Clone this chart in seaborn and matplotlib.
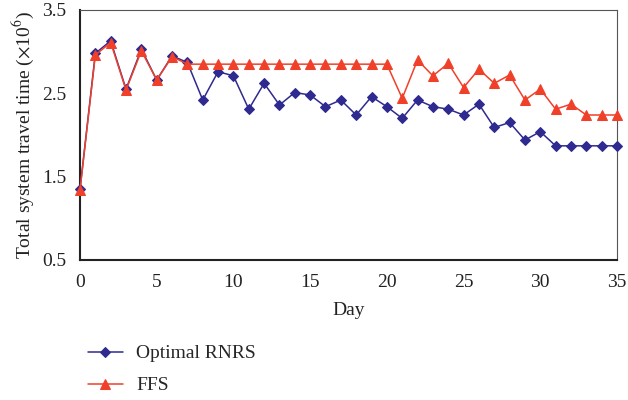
import numpy as np
import pandas as pd
import matplotlib
matplotlib.use('Agg')
import matplotlib.pyplot as plt
import seaborn as sns

# データ
days = list(range(36))
optimal_rnrs = [1.35, 2.98, 3.13, 2.55, 3.03, 2.66, 2.95, 2.87, 2.42, 2.76,
                2.71, 2.31, 2.62, 2.36, 2.51, 2.48, 2.34, 2.42, 2.24, 2.46,
                2.34, 2.20, 2.42, 2.34, 2.31, 2.24, 2.37, 2.09, 2.15, 1.94,
                2.04, 1.87, 1.87, 1.87, 1.87, 1.87]
ffs = [1.34, 2.96, 3.11, 2.54, 3.01, 2.66, 2.94, 2.85, 2.85, 2.85,
       2.85, 2.85, 2.85, 2.85, 2.85, 2.85, 2.85, 2.85, 2.85, 2.85,
       2.85, 2.44, 2.90, 2.71, 2.86, 2.57, 2.79, 2.62, 2.72, 2.42,
       2.55, 2.31, 2.37, 2.24, 2.24, 2.24]
x_ticks = [0, 5, 10, 15, 20, 25, 30, 35]
y_ticks = [0.5, 1.5, 2.5, 3.5]

sns.set_style('white')
plt.rcParams['font.family'] = ['Liberation Serif', 'DejaVu Serif']
plt.rcParams['mathtext.fontset'] = 'stix'

fig = plt.figure(figsize=(6.28, 4.0), dpi=100)
ax = fig.add_axes([80 / 628, 1 - 260 / 400, (617 - 80) / 628, 250 / 400])

blue = '#2e2a8f'
red = '#f0402a'
fs = 14

sns.lineplot(x=days, y=optimal_rnrs, ax=ax, color=blue, marker='D',
             markersize=5, markeredgecolor=blue, linewidth=1.1,
             label='Optimal RNRS', clip_on=False, zorder=3)
sns.lineplot(x=days, y=ffs, ax=ax, color=red, marker='^',
             markersize=7, markeredgecolor=red, linewidth=1.1,
             label='FFS', clip_on=False, zorder=4)

ax.set_xlim(0, 35)
ax.set_ylim(0.5, 3.5)
ax.set_xticks(x_ticks)
ax.set_yticks(y_ticks)
ax.set_yticklabels([str(v) for v in y_ticks])
ax.tick_params(direction='in', length=4, width=1, labelsize=fs, colors='#222222')
ax.tick_params(axis='x', pad=10)
ax.tick_params(axis='y', pad=10)
ax.set_xlabel('Day', fontsize=fs, color='#222222', labelpad=8)
ax.set_ylabel(r'Total system travel time ($\times$10$^6$)', fontsize=fs, color='#222222',
              labelpad=4)

for side in ['left', 'bottom']:
    ax.spines[side].set_color('#222222')
    ax.spines[side].set_linewidth(1.5)
for side in ['top', 'right']:
    ax.spines[side].set_color('#555555')
    ax.spines[side].set_linewidth(0.8)

ax.legend(loc='lower left', bbox_to_anchor=(70 / 628, -0.03), bbox_transform=fig.transFigure,
          frameon=False, fontsize=fs, handlelength=1.8, handletextpad=0.7,
          labelspacing=0.75)

fig.savefig('out.png', dpi=100)
